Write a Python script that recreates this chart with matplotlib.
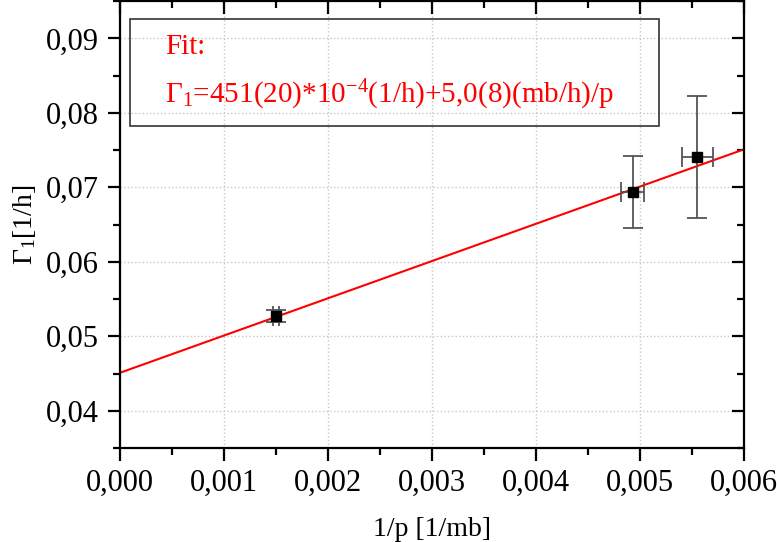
import numpy as np
import matplotlib.pyplot as plt
from matplotlib.ticker import MultipleLocator, FuncFormatter

plt.rcParams['font.family'] = ['Liberation Serif', 'DejaVu Serif']
plt.rcParams['mathtext.fontset'] = 'custom'
plt.rcParams['mathtext.rm'] = 'Liberation Serif'
plt.rcParams['mathtext.it'] = 'Liberation Serif'

# Messwerte: 1/p und Zerfallsrate Gamma_1
inv_p = [0.00150, 0.00493, 0.00555]
inv_p_err = [0.00003, 0.00011, 0.00015]
gamma1 = [0.0527, 0.0694, 0.0741]
gamma1_err = [0.0008, 0.0048, 0.0082]

# lineare Anpassung
fit_a = 451e-4
fit_b = 5.0

fig = plt.figure(figsize=(7.77, 5.42), dpi=100)
ax = fig.add_axes([0.1544, 0.1734, 0.8031, 0.8246])

ax.errorbar(inv_p, gamma1, xerr=inv_p_err, yerr=gamma1_err, fmt='s',
            color='black', ms=7.5, ecolor='#555555', elinewidth=1.3,
            capsize=7.5, capthick=1.3, zorder=3)

xf = np.linspace(0, 0.006, 50)
ax.plot(xf, fit_a + fit_b * xf, color='red', lw=1.5, zorder=2)

ax.set_xlim(0, 0.006)
ax.set_ylim(0.035, 0.095)
ax.xaxis.set_major_locator(MultipleLocator(0.001))
ax.xaxis.set_minor_locator(MultipleLocator(0.0005))
ax.yaxis.set_major_locator(MultipleLocator(0.01))
ax.yaxis.set_minor_locator(MultipleLocator(0.005))
ax.xaxis.set_major_formatter(FuncFormatter(lambda v, p: f'{v:.3f}'.replace('.', ',')))
ax.yaxis.set_major_formatter(FuncFormatter(lambda v, p: f'{v:.2f}'.replace('.', ',')))

ax.grid(True, which='major', color='#c8c8c8', ls=':', lw=1)
for s in ax.spines.values():
    s.set_linewidth(1.6)
ax.tick_params(which='both', direction='out', width=1.6, labelsize=22, pad=6)
ax.tick_params(which='major', length=9)
ax.tick_params(which='minor', length=5)
ax.tick_params(which='both', top=True, right=True)

# Ticks oben/rechts nach innen
for line in ax.xaxis.get_ticklines(minor=False)[1::2] + ax.xaxis.get_ticklines(minor=True)[1::2]:
    line.set_marker(3)
for line in ax.yaxis.get_ticklines(minor=False)[1::2] + ax.yaxis.get_ticklines(minor=True)[1::2]:
    line.set_marker(0)

ax.set_xlabel('1/p [1/mb]', fontsize=20, labelpad=14)
ax.set_ylabel(r'$\Gamma_1$[1/h]', fontsize=20, labelpad=6)

ax.text(0.00043, 0.0889, 'Fit:', color='red', fontsize=21, va='center')
ax.text(0.00043, 0.0824, r'$\Gamma_1$=451(20)*10$^{-4}$(1/h)+5,0(8)(mb/h)/p',
        color='red', fontsize=21, va='center')
ax.add_patch(plt.Rectangle((0.000096, 0.07817), 0.005088, 0.01438, fill=False,
                           ec='#333333', lw=1.2, zorder=4))

fig.savefig('out.png', dpi=100)
